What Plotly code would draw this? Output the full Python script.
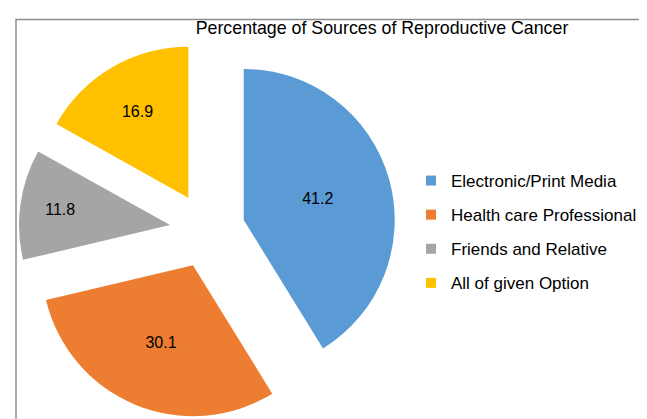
import plotly.graph_objects as go

categories = ["Electronic/Print Media", "Health care Professional", "Friends and Relative", "All of given Option"]
values = [41.2, 30.1, 11.8, 16.9]
colors = ["#5B9BD5", "#ED7D31", "#A5A5A5", "#FFC000"]
title_text = "Percentage of Sources of Reproductive Cancer"

W, H = 647, 419

fig = go.Figure()
fig.add_trace(go.Pie(
    labels=categories, values=values, sort=False, direction="clockwise", rotation=0,
    pull=0.25, marker=dict(colors=colors, line=dict(width=0)),
    textinfo="value", textposition="inside", insidetextorientation="horizontal",
    textfont=dict(family="Liberation Sans, Arial", size=16, color="black"),
    domain=dict(x=[10.6/W, 388.2/W], y=[8/H, 1-33.5/H]),
    showlegend=False, hoverinfo="label+value",
))

# legend proxies (one per category)
for name, col in zip(categories, colors):
    fig.add_trace(go.Scatter(
        x=[None], y=[None], mode="markers", name=name, legendgroup=name,
        marker=dict(symbol="square", size=10, color=col),
    ))

fig.update_layout(
    width=W, height=H,
    margin=dict(l=0, r=0, t=0, b=0),
    paper_bgcolor="white", plot_bgcolor="white",
    title=dict(text=title_text, x=374/W, xanchor="center", y=1-20/H, yanchor="middle",
               yref="container", xref="container",
               font=dict(family="Liberation Sans, Arial", size=17.8, color="black")),
    legend=dict(x=403/W, y=1-155/H, xanchor="left", yanchor="top",
                font=dict(family="Liberation Sans, Arial", size=17, color="black"),
                tracegroupgap=9, bgcolor="rgba(0,0,0,0)"),
    xaxis=dict(visible=False), yaxis=dict(visible=False),
    shapes=[dict(type="rect", xref="paper", yref="paper",
                 x0=8/W, x1=1.02, y0=-0.02, y1=1-11.5/H,
                 line=dict(color="#8c8c8c", width=1.5), layer="below")],
)

fig.write_html("out.html")
